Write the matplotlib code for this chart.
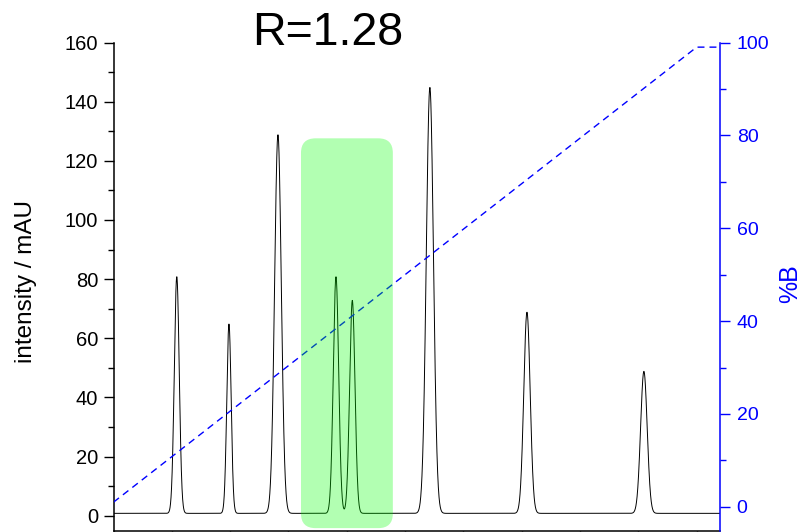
import numpy as np
import matplotlib.pyplot as plt
from matplotlib.patches import FancyBboxPatch

plt.rcParams['font.family'] = ['Liberation Sans', 'DejaVu Sans']

# peak table: retention time (min), height (mAU), gaussian sigma (min)
peak_times = [2.17, 3.96, 5.64, 7.63, 8.19, 10.85, 14.18, 18.19]
peak_heights = [80, 64, 128, 80, 72, 144, 68, 48]
peak_sigmas = [0.085, 0.075, 0.115, 0.092, 0.092, 0.123, 0.11, 0.113]
baseline = 0.8

# solvent gradient program (%B)
grad_time = [0.0, 20.0, 20.8]
grad_b = [1.0, 99.0, 99.0]

# critical pair window
window_t = (6.43, 9.58)
window_i = (-4.2, 127.6)

t = np.linspace(0, 20.8, 6000)
signal = np.full_like(t, baseline)
for rt, h, s in zip(peak_times, peak_heights, peak_sigmas):
    signal += h * np.exp(-0.5 * ((t - rt) / s) ** 2)

fig = plt.figure(figsize=(8.02, 5.32), dpi=100)
ax = fig.add_axes([113.5 / 802, 1.5 / 532, (720 - 113.5) / 802, (530.5 - 42.5) / 532])
ax2 = ax.twinx()

ax.plot(t, signal, color='black', lw=0.7, zorder=2)
ax.set_xlim(0, 20.8)
ax.set_ylim(-5, 160)
ax.set_yticks(np.arange(0, 161, 20))
ax.set_yticks(np.arange(0, 161, 10), minor=True)
ax.set_xticks(np.arange(0, 20.9, 2))
ax.set_xticklabels([])
ax.tick_params(axis='y', which='major', length=7, width=1, labelsize=14.5, pad=4)
ax.tick_params(axis='y', which='minor', length=4, width=1)
ax.tick_params(axis='x', which='major', length=5, width=1, direction='out')
for side in ('top', 'right'):
    ax.spines[side].set_visible(False)
for side in ('left', 'bottom'):
    ax.spines[side].set_linewidth(1.1)

blue = '#0000ff'
ax2.plot(grad_time, grad_b, color=blue, lw=1.0, dashes=(5, 3.6), zorder=2)
ax2.set_ylim(-5.1, 100)
ax2.set_yticks(np.arange(0, 101, 20))
ax2.set_yticks(np.arange(0, 101, 10), minor=True)
ax2.tick_params(axis='y', which='major', length=7, width=1, labelsize=14,
                colors=blue, pad=5)
ax2.tick_params(axis='y', which='minor', length=4, width=1, colors=blue)
for side in ('top', 'left', 'bottom'):
    ax2.spines[side].set_visible(False)
ax2.spines['right'].set_color(blue)
ax2.spines['right'].set_linewidth(1.1)

# rounded highlight over the co-eluting pair (aspect keeps the corners round)
px_x = (720 - 113.5) / 20.8
px_y = (530.5 - 42.5) / 165.0
box = FancyBboxPatch((window_t[0], window_i[0]),
                     window_t[1] - window_t[0], window_i[1] - window_i[0],
                     boxstyle='round,pad=0,rounding_size=0.5',
                     mutation_aspect=px_x / px_y,
                     transform=ax.transData, facecolor=(0, 1, 0), alpha=0.3,
                     edgecolor='none', zorder=5)
ax2.add_patch(box)

fig.text(328 / 802, 1 - 45 / 532, 'R=1.28', fontsize=33.5, ha='center', va='baseline')
fig.text(26 / 802, 1 - 281.5 / 532, 'intensity / mAU', fontsize=17.5,
         rotation=90, ha='center', va='center')
fig.text(790 / 802, 1 - 284 / 532, '%B', fontsize=18, color=blue,
         rotation=90, ha='center', va='center')

fig.savefig('out.png', dpi=100)
